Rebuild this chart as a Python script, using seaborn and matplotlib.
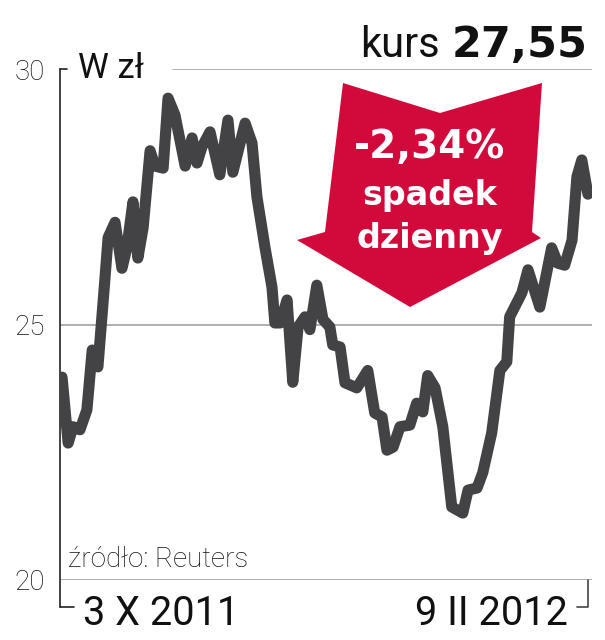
import pandas as pd
import seaborn as sns
import matplotlib.pyplot as plt
from matplotlib.patches import Polygon

# days since 3 X 2011 and share price in zł
days = [0, 1.5, 2.7, 4.4, 6.1, 7.4, 8.8, 10.5, 11.3, 13.0,
        14.7, 15.9, 17.4, 18.6, 19.9, 21.6, 22.8, 24.8, 26.0, 27.7,
        30.2, 31.9, 33.1, 34.3, 36.3, 38.7, 40.7, 41.9, 44.9, 46.6,
        47.8, 49.8, 51.5, 52.2, 53.5, 55.2, 56.6, 57.9, 59.6, 60.8,
        62.5, 64.0, 65.7, 66.4, 68.2, 69.4, 72.3, 75.0, 76.7, 78.5,
        79.7, 81.2, 82.9, 85.3, 87.0, 88.5, 89.7, 91.5, 93.4, 95.6,
        98.3, 99.6, 101.8, 103.2, 105.4, 107.4, 109.1, 109.8, 112.8, 114.3,
        117.2, 120.1, 121.6, 123.3, 125.1, 126.3, 127.5, 129.0]
price = [23.97, 22.68, 23.0, 22.94, 23.33, 24.5, 24.17, 25.87, 26.7, 27.0,
         26.1, 26.5, 27.4, 26.3, 26.9, 28.4, 28.1, 28.06, 29.43, 29.1,
         28.1, 28.65, 28.16, 28.47, 28.77, 27.93, 29.0, 27.98, 28.94, 28.55,
         27.5, 26.5, 25.73, 25.03, 25.03, 25.48, 23.87, 24.95, 25.15, 24.9,
         25.77, 25.1, 24.95, 24.6, 24.56, 23.86, 23.76, 24.1, 23.27, 23.19,
         22.54, 22.6, 23.0, 23.03, 23.46, 23.29, 24.0, 23.76, 23.0, 21.43,
         21.31, 21.76, 21.8, 22.1, 22.88, 24.1, 24.27, 25.15, 25.62, 26.07,
         25.34, 26.5, 26.2, 26.16, 26.65, 27.89, 28.22, 27.55]

y_ticks = [20, 25, 30]
y_labels = ["20", "25", "30"]
start_label = "3 X 2011"
end_label = "9 II 2012"
last_price = "27,55"
change_lines = ["-2,34%", "spadek", "dzienny"]

sns.set_style("white")
plt.rcParams['font.family'] = ['Roboto', 'DejaVu Sans']

W, H = 605, 640
fig = plt.figure(figsize=(W / 100, H / 100), dpi=100)
ax = fig.add_axes([60 / W, 60 / H, 532 / W, 511 / H])

df = pd.DataFrame({"day": days, "price": price})
sns.lineplot(data=df, x="day", y="price", color="#434345", linewidth=8,
             solid_capstyle="round", solid_joinstyle="round", ax=ax, zorder=3)
ax.set_xlim(-0.5, 130)
ax.set_ylim(20, 30)
for s in ax.spines.values():
    s.set_visible(False)
ax.set_xlabel("")
ax.set_ylabel("")
ax.set_xticks([])
ax.set_yticks(y_ticks, y_labels, fontsize=20, fontweight="light", color="#111111")
ax.tick_params(axis="y", length=0, pad=11)

grid = "#9a9a9a"
ax.axhline(20, color=grid, lw=1.1)
ax.axhline(25, color=grid, lw=1.1)
ax.axhline(30, xmin=0.212, color=grid, lw=1.1)

# axis line and the small brackets at its ends
yb = -27 / 511
ax.plot([0, 0], [1, yb], transform=ax.transAxes, color="#222222", lw=1.2, clip_on=False)
ax.plot([0, 0.013], [1, 1], transform=ax.transAxes, color="#222222", lw=1.2, clip_on=False)
ax.plot([0, 0.026], [yb, yb], transform=ax.transAxes, color="#222222", lw=1.2, clip_on=False)
ax.plot([0.9925, 0.9925, 0.972], [0, yb, yb], transform=ax.transAxes,
        color="#444444", lw=1.2, clip_on=False)

ax.text(0.033, 1.0, "W zł", transform=ax.transAxes, va="center", ha="left",
        fontsize=25, color="#111111")
ax.text(0.015, 0.025, "źródło: Reuters", transform=ax.transAxes, va="baseline",
        ha="left", fontsize=20, fontweight="light", color="#111111")
ax.text(0.043, -0.088, start_label, transform=ax.transAxes, va="baseline",
        ha="left", fontsize=28.5, color="#111111")
ax.text(0.955, -0.088, end_label, transform=ax.transAxes, va="baseline",
        ha="right", fontsize=28.5, color="#111111")

fig.text(440 / W, 1 - 57 / H, "kurs", ha="right", va="baseline", fontsize=30,
         color="#111111")
fig.text(588 / W, 1 - 57 / H, last_price, ha="right", va="baseline", fontsize=31,
         fontweight="bold", family="DejaVu Sans", color="#111111")

# red arrow
arrow_px = [(343, 83), (440, 113), (542, 83), (532, 232), (541, 238),
            (410, 307), (297, 240), (325, 232)]
arrow = Polygon([(x / W, 1 - y / H) for x, y in arrow_px], closed=True,
                transform=fig.transFigure, facecolor="#d20a3c", edgecolor="none", zorder=5)
fig.add_artist(arrow)
for txt, yb_px, fs in zip(change_lines, [158, 205, 248], [28, 24, 24]):
    fig.text(430 / W, 1 - yb_px / H, txt, ha="center", va="baseline", fontsize=fs,
             fontweight="bold", family="DejaVu Sans", color="white", zorder=6)

fig.savefig("out.png", dpi=100)
